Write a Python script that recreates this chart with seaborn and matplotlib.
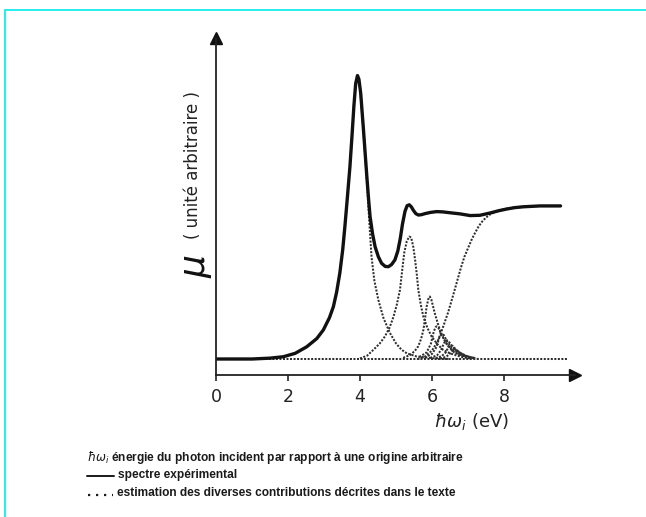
import numpy as np
import pandas as pd
import seaborn as sns
import matplotlib
matplotlib.use("Agg")
import matplotlib.pyplot as plt
from matplotlib.lines import Line2D
from matplotlib import font_manager

# ---------------- data ----------------
x_ticks = [0, 2, 4, 6, 8]
x_tick_labels = ["0", "2", "4", "6", "8"]

# experimental spectrum (solid)
spec_E = [0.0, 1.0, 1.5, 1.87, 2.2, 2.52, 2.8, 2.98, 3.15, 3.26, 3.35, 3.44, 3.52, 3.58,
          3.65, 3.72, 3.78, 3.83, 3.88, 3.93, 3.97, 4.02, 4.09, 4.14, 4.19, 4.24, 4.28,
          4.35, 4.42, 4.51, 4.60, 4.70, 4.79, 4.88, 4.97, 5.05, 5.12, 5.18, 5.25, 5.31,
          5.37, 5.43, 5.48, 5.55, 5.62, 5.70, 5.81, 5.95, 6.13, 6.30, 6.50, 6.78, 7.06,
          7.33, 7.61, 7.85, 8.07, 8.30, 8.54, 9.00, 9.57]
spec_v = [0.0, 0.0, 0.03, 0.08, 0.2, 0.43, 0.72, 1.02, 1.45, 1.84, 2.35, 3.03, 3.85, 4.66,
          5.7, 6.77, 7.9, 8.9, 9.7, 9.98, 9.85, 9.35, 8.18, 7.3, 6.42, 5.6, 5.01,
          4.4, 3.95, 3.6, 3.37, 3.26, 3.25, 3.33, 3.49, 3.8, 4.25, 4.75, 5.2, 5.4,
          5.43, 5.35, 5.24, 5.12, 5.07, 5.08, 5.12, 5.16, 5.19, 5.18, 5.15, 5.11, 5.05,
          5.06, 5.14, 5.22, 5.28, 5.33, 5.36, 5.39, 5.39]

# estimated contributions (dotted)
base_E = [0.0, 9.75]
base_v = [0.0, 0.0]

c1_E = [3.93, 4.0, 4.09, 4.19, 4.25, 4.32, 4.40, 4.51, 4.65, 4.83, 5.0, 5.15, 5.3, 5.57, 6.0, 6.5]
c1_v = [9.98, 9.55, 8.15, 6.3, 5.0, 3.6, 2.75, 2.08, 1.45, 0.92, 0.55, 0.33, 0.2, 0.09, 0.03, 0.0]

c2_E = [4.0, 4.2, 4.37, 4.55, 4.69, 4.82, 4.93, 5.02, 5.11, 5.17, 5.23, 5.30, 5.37, 5.42,
        5.48, 5.53, 5.58, 5.62, 5.69, 5.76, 5.87, 5.99, 6.15, 6.31, 6.5, 6.69, 6.9, 7.1]
c2_v = [0.02, 0.12, 0.32, 0.55, 0.79, 1.1, 1.49, 1.9, 2.43, 3.1, 3.75, 4.15, 4.31, 4.28,
        3.95, 3.5, 2.95, 2.43, 1.9, 1.49, 1.1, 0.79, 0.52, 0.32, 0.2, 0.12, 0.05, 0.02]

c3_E = [5.2, 5.39, 5.52, 5.62, 5.70, 5.76, 5.81, 5.85, 5.90, 5.94, 5.98, 6.03, 6.08, 6.15,
        6.22, 6.33, 6.45, 6.6, 6.78, 7.0, 7.2]
c3_v = [0.04, 0.14, 0.28, 0.45, 0.72, 1.02, 1.45, 1.84, 2.12, 2.2, 2.1, 1.85, 1.6, 1.3,
        1.02, 0.7, 0.45, 0.26, 0.14, 0.05, 0.02]

c4_E = [5.65, 5.85, 5.97, 6.05, 6.10, 6.13, 6.18, 6.27, 6.40, 6.62, 6.95]
c4_v = [0.07, 0.23, 0.54, 0.97, 1.12, 1.15, 1.09, 0.84, 0.54, 0.23, 0.07]
c5_E = [5.8, 6.0, 6.12, 6.2, 6.25, 6.28, 6.33, 6.41, 6.54, 6.75, 7.05]
c5_v = [0.05, 0.18, 0.41, 0.74, 0.85, 0.88, 0.84, 0.64, 0.41, 0.18, 0.05]
c6_E = [5.95, 6.14, 6.25, 6.33, 6.38, 6.41, 6.46, 6.54, 6.66, 6.86, 7.12]
c6_v = [0.04, 0.13, 0.31, 0.55, 0.64, 0.66, 0.63, 0.48, 0.31, 0.13, 0.04]
c7_E = [6.1, 6.27, 6.38, 6.45, 6.5, 6.53, 6.58, 6.65, 6.77, 6.96, 7.2]
c7_v = [0.03, 0.1, 0.23, 0.4, 0.47, 0.48, 0.46, 0.35, 0.23, 0.1, 0.03]
c8_E = [6.22, 6.38, 6.48, 6.55, 6.6, 6.63, 6.68, 6.75, 6.86, 7.04, 7.25]
c8_v = [0.02, 0.07, 0.16, 0.29, 0.33, 0.34, 0.32, 0.25, 0.16, 0.07, 0.02]

step_E = [5.6, 5.8, 6.0, 6.15, 6.3, 6.45, 6.6, 6.7, 6.8, 6.9, 7.0, 7.1, 7.2, 7.3, 7.4,
          7.5, 7.6, 7.75, 7.9, 8.1, 8.3, 8.6]
step_v = [0.0, 0.08, 0.3, 0.6, 1.1, 1.65, 2.3, 2.75, 3.2, 3.6, 3.9, 4.2, 4.45, 4.68, 4.85,
          4.98, 5.08, 5.17, 5.24, 5.3, 5.34, 5.37]

caption_1 = " énergie du photon incident par rapport à une origine arbitraire"
caption_2 = "spectre expérimental"
caption_3 = "estimation des diverses contributions décrites dans le texte"

# ---------------- figure ----------------
sns.set_theme(style="ticks")
plt.rcParams["font.family"] = ["DejaVu Sans"]

W, H = 646, 517
fig = plt.figure(figsize=(W / 100, H / 100), dpi=100)
fig.patch.set_facecolor("white")

def fx(px):
    return px / W

def fy(py):
    return 1 - py / H

ax_left, ax_right, ax_top, ax_bot = 216, 575, 38, 375
ax = fig.add_axes([fx(ax_left), fy(ax_bot), (ax_right - ax_left) / W, (ax_bot - ax_top) / H])
ax.set_facecolor("white")

px_per_E = 36.0
px_per_v = 28.4
base_px = 359
ax.set_xlim(0, (ax_right - ax_left) / px_per_E)
ax.set_ylim(-(ax_bot - base_px) / px_per_v, (base_px - ax_top) / px_per_v)

dot_style = dict(color="#2e2e2e", linewidth=1.45, linestyle=(0, (1.0, 0.75)))
for E, v in [(base_E, base_v), (c1_E, c1_v), (c2_E, c2_v), (c3_E, c3_v), (c4_E, c4_v),
             (c5_E, c5_v), (c6_E, c6_v), (c7_E, c7_v), (c8_E, c8_v), (step_E, step_v)]:
    sns.lineplot(x=E, y=v, ax=ax, sort=False, estimator=None, **dot_style)

sns.lineplot(x=spec_E, y=spec_v, ax=ax, sort=False, estimator=None,
             color="#111111", linewidth=2.4)

sns.despine(ax=ax)
for s in ["left", "bottom"]:
    ax.spines[s].set_color("#222222")
    ax.spines[s].set_linewidth(1.3)
ax.set_yticks([])
ax.set_xticks(x_ticks)
ax.set_xticklabels(x_tick_labels)
ax.tick_params(axis="x", direction="out", length=4, width=1.2, color="#222222",
               labelsize=12.5, pad=5, labelcolor="#222222")
ax.set_xlabel("")
ax.set_ylabel("")

# axis arrows
ax.plot(1, 0, marker=">", color="#111111", markersize=8, transform=ax.transAxes, clip_on=False)
ax.plot(0, 1, marker="^", color="#111111", markersize=8, transform=ax.transAxes, clip_on=False)

# axis titles
fig.text(fx(472), fy(422), r"$\hbar\omega_i$" + " (eV)", fontsize=13, ha="center",
         va="center", color="#222222")
fig.text(fx(193), fy(165), "( unité arbitraire )", rotation=90, fontsize=12,
         ha="center", va="center", color="#222222")
fig.text(fx(197), fy(266), r"$\mu$", rotation=90, fontsize=26, ha="center",
         va="center", color="#111111")

# caption
names = {f.name for f in font_manager.fontManager.ttflist}
cap_font = "Liberation Sans Narrow" if "Liberation Sans Narrow" in names else "Liberation Sans"
cap = dict(fontsize=9, fontweight="bold", family=[cap_font, "DejaVu Sans"],
           color="#1a1a1a", va="center", ha="left")
t1 = fig.text(fx(87), fy(457), r"$\hbar\omega_i$" + caption_1, **cap)
t2 = fig.text(fx(118), fy(475), caption_2, **cap)
t3 = fig.text(fx(117), fy(493), caption_3, **cap)
renderer = fig.canvas.get_renderer()
w3 = t3.get_window_extent(renderer).width
size = 9 * (455 - 117) / w3
for t in (t1, t2, t3):
    t.set_fontsize(size)

fig.add_artist(Line2D([fx(87), fx(114)], [fy(476), fy(476)], color="#1a1a1a", lw=1.4))
fig.add_artist(Line2D([fx(88), fx(113)], [fy(495), fy(495)], color="#1a1a1a", lw=1.6,
                      linestyle=(0, (1, 2.6))))

# cyan frame
fig.add_artist(Line2D([fx(5), fx(646)], [fy(10), fy(10)], color="#22EEEE", lw=1.4))
fig.add_artist(Line2D([fx(5), fx(5)], [fy(10), fy(517)], color="#22EEEE", lw=1.4))

fig.savefig("out.png", dpi=100, facecolor="white")
